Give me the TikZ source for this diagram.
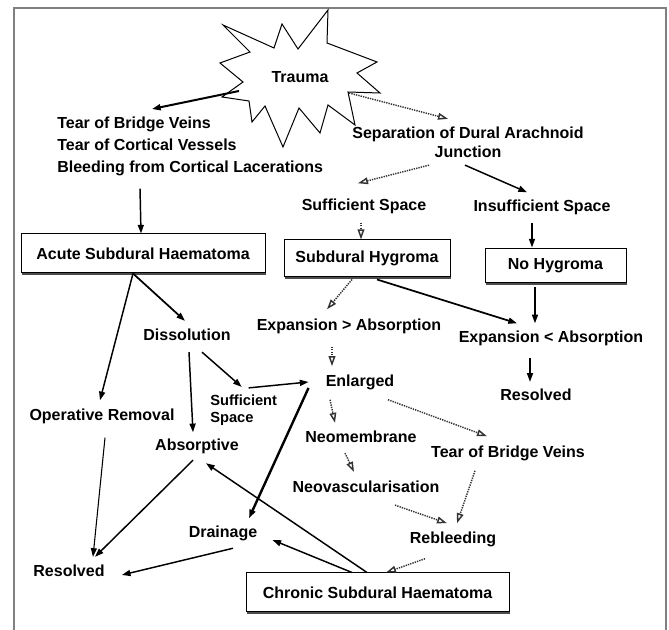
\documentclass[tikz,border=0pt]{standalone}
\usepackage{fontspec}
\setmainfont{Liberation Sans}
\usetikzlibrary{arrows.meta, positioning, calc, shadows}

\begin{document}
\begin{tikzpicture}[x=0.75pt, y=-0.75pt,
    font=\fontsize{12}{14}\selectfont\bfseries,
    lbl/.style={inner sep=0pt},
    box/.style={draw, fill=white, line width=0.75pt, inner sep=0pt,
        drop shadow={shadow xshift=0.75pt, shadow yshift=-1.5pt, fill=black!70, opacity=1}},
    arr/.style={-{Triangle[length=6.5pt,width=4.5pt]}, line width=1.1pt},
    darr/.style={-{Triangle[open,length=7.5pt,width=5pt,fill=white]}, line width=1.1pt,
        black!80, dash pattern=on 1pt off 0.8pt}]
    \useasboundingbox (0,0) rectangle (669,630);

    % Frame
    \draw[gray, line width=1.5pt] (14,630) -- (14,8) -- (666,8) -- (666,630);

    % Star
    \draw[fill=white, line width=0.75pt] (328,10) -- (327,43) -- (377,62) -- (357,73)
        -- (380,93) -- (348,92) -- (355,125) -- (328,105) -- (320,133) -- (299,108)
        -- (283,147) -- (265,106) -- (252,122) -- (249,101) -- (222,97) -- (243,82)
        -- (220,63) -- (250,52) -- (223,25) -- (274,48) -- (282,24) -- (298,49) -- cycle;
    \node[lbl] (trauma) at (300,77) {Trauma};

    % Top part
    \node[lbl, anchor=north west, align=left, font=\fontsize{12}{16.5}\selectfont\bfseries] (tear) at (57,117)
        {Tear of Bridge Veins\\Tear of Cortical Vessels\\Bleeding from Cortical Lacerations};
    \node[lbl, align=center, font=\fontsize{12}{14.25}\selectfont\bfseries] (sep) at (468,142.5)
        {Separation of Dural Arachnoid\\Junction};
    \node[lbl] (suffa) at (364,206) {Sufficient Space};
    \node[lbl] (insuff) at (542,207) {Insufficient Space};

    % Boxes
    \node[box, minimum width=183pt, minimum height=29.25pt] (acute) at (143,253.5) {Acute Subdural Haematoma};
    \node[box, minimum width=124.5pt, minimum height=27.75pt] (hyg) at (367,258.5) {Subdural Hygroma};
    \node[box, minimum width=105.75pt, minimum height=25.5pt] (nohyg) at (555.5,266) {No Hygroma};
    \node[box, minimum width=197.25pt, minimum height=29.25pt] (chronic) at (377.5,592.5) {Chronic Subdural Haematoma};

    % Middle part
    \node[lbl] (diss) at (187,335) {Dissolution};
    \node[lbl] (expgt) at (349,326) {Expansion > Absorption};
    \node[lbl] (explt) at (551,338) {Expansion < Absorption};
    \node[lbl] (resa) at (536,395) {Resolved};
    \node[lbl] (enl) at (360,382) {Enlarged};
    \node[lbl, anchor=west, align=left, font=\fontsize{11}{12.75}\selectfont\bfseries] (suffb) at (210,410.5)
        {Sufficient\\Space};
    \node[lbl] (oper) at (102,416) {Operative Removal};
    \node[lbl] (neomem) at (361,437) {Neomembrane};
    \node[lbl] (absorp) at (197,446) {Absorptive};
    \node[lbl] (tearbv) at (508,453) {Tear of Bridge Veins};
    \node[lbl] (neovasc) at (366,487) {Neovascularisation};
    \node[lbl] (drain) at (223,533) {Drainage};
    \node[lbl] (rebleed) at (453,539) {Rebleeding};
    \node[lbl] (resb) at (69,571) {Resolved};

    % Trauma arrows
    \draw[arr, line width=1.5pt] ($(trauma)+(-61,14)$) -- ($(tear.north west)+(95,-8)$);
    \draw[darr] ($(trauma)+(49,16)$) -- ($(sep.north)+(-20,-8)$);
    \draw[arr] ($(tear.south west)+(83,12)$) -- ($(acute.north)+(-2,0)$);
    \draw[darr] ($(sep.south)+(-39,7)$) -- ($(suffa.north)+(-6,-15)$);
    \draw[arr] ($(sep.south)+(-3,7)$) -- ($(insuff.north)+(-15,-7)$);
    \draw[darr] ($(suffa.south)+(-3,9)$) -- ($(hyg.north)+(-6,0)$);
    \draw[arr] ($(insuff.south)+(-10,8)$) -- ($(nohyg.north)+(-23.5,-1)$);

    % Acute
    \draw[arr, line width=1.3pt] ($(acute.south)+(-10,0)$) -- ($(diss.north)+(-2,-8)$);
    \draw[arr] ($(acute.south)+(-10,0)$) -- ($(oper.north)+(-2,-8)$);

    % Hygroma
    \draw[darr] ($(hyg.south)+(-15,2)$) -- ($(expgt.north)+(-22,-9)$);
    \draw[arr, line width=1.3pt] ($(hyg.south)+(10,2)$) -- ($(explt.north)+(-34,-7)$);
    \draw[arr] ($(nohyg.south)+(-20.5,4)$) -- ($(explt.north)+(-16,-7)$);
    \draw[arr] ($(explt.south)+(-21,12)$) -- ($(resa.north)+(-6,-7)$);
    \draw[darr] ($(expgt.south)+(-17,13)$) -- ($(enl.north)+(-28,-8)$);

    % Dissolution
    \draw[arr] ($(diss.south)+(2,11)$) -- ($(absorp.north)+(-4,-6)$);
    \draw[arr] ($(diss.south)+(15,11)$) -- ($(suffb.north)+(-2,-8)$);
    \draw[arr] ($(suffb.north)+(5,-7)$) -- ($(enl.west)+(-17,0)$);

    % Enlarged
    \draw[arr, line width=1.8pt] ($(enl.west)+(-17,6)$) -- ($(drain.north)+(26,-7)$);
    \draw[darr] ($(enl.south)+(-30,10)$) -- ($(neomem.north)+(-26,-8)$);
    \draw[darr] ($(enl.south)+(28,10)$) -- ($(tearbv.north)+(-21,-9)$);
    \draw[darr] ($(neomem.south)+(-16,10)$) -- ($(neovasc.north)+(-12,-9)$);
    \draw[darr] ($(neovasc.south)+(29,12)$) -- ($(rebleed.north)+(-6,-8)$);
    \draw[darr] ($(tearbv.south)+(-33,10)$) -- ($(rebleed.north)+(4,-8)$);
    \draw[darr] ($(rebleed.south)+(-28,12)$) -- ($(chronic.north)+(8.5,0)$);

    % Chronic
    \draw[arr] ($(chronic.north)+(-25.5,0)$) -- ($(drain.east)+(15,7)$);
    \draw[arr] ($(chronic.north)+(-10.5,0)$) -- ($(absorp.south)+(9,9.5)$);

    % Resolved
    \draw[arr, line width=0.8pt] ($(oper.south)+(3,14)$) -- ($(resb.north)+(24,-8)$);
    \draw[arr] ($(absorp.south)+(-4,6.5)$) -- ($(resb.north)+(26,-8)$);
    \draw[arr] ($(drain.south)+(10,7.5)$) -- ($(resb.east)+(17,4)$);
\end{tikzpicture}
\end{document}
